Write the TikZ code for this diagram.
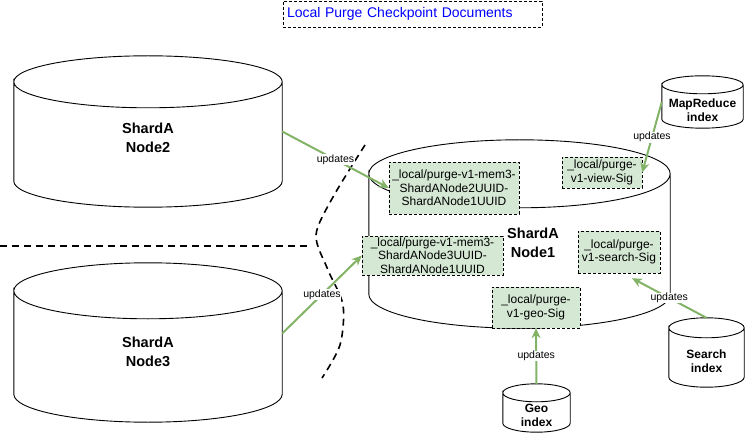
\documentclass[tikz,border=0pt]{standalone}
\usepackage{fontspec}
\setmainfont{Liberation Sans}
\usepackage{tikz}
\usetikzlibrary{calc,arrows.meta}
\definecolor{ckfill}{HTML}{D5E8D4}
\definecolor{ckline}{HTML}{82B366}
\newcommand{\dbfont}{\fontsize{14.5}{19}\bfseries\selectfont}
\newcommand{\dbsmall}{\fontsize{12}{14}\bfseries\selectfont}
\newcommand{\cyl}[2]{\draw[line width=0.9pt] let \p1=(#1.north west), \p2=(#1.south east), \n1={(\x2-\x1)/2} in
  (\x1,\y1-#2pt) arc[start angle=180, end angle=-180, x radius=\n1, y radius=#2pt]
  -- (\x1,\y2+#2pt) arc[start angle=180, end angle=360, x radius=\n1, y radius=#2pt] -- (\x2,\y1-#2pt);}

\begin{document}
\begin{tikzpicture}[x=1pt,y=-1pt,
  db/.style={rectangle,inner sep=0pt},
  ck/.style={draw,dash pattern=on 3pt off 2pt,fill=ckfill,inner sep=0pt,align=center,font=\fontsize{12}{13.5}\selectfont},
  upd/.style={-{Stealth[length=10pt,width=9pt]},ckline,line width=2pt},
  updlab/.style={fill=white,text=black,inner sep=0.5pt,font=\fontsize{10.5}{12}\selectfont},
  sep/.style={line width=1.6pt,dash pattern=on 7pt off 5pt}]
\useasboundingbox (0,0) rectangle (745,433);

\node[draw,dash pattern=on 3pt off 2pt,minimum height=26,text width=251,align=left,inner sep=4pt,text=blue,font=\fontsize{14}{16}\selectfont] (legend) at (412.5,14) {Local Purge Checkpoint Documents};

\draw[sep] (0,246) -- (310,246);
\draw[sep] plot[smooth] coordinates {(365,145) (333,197) (316,235) (328,270) (343,305) (340,345) (322,378)};

\node[db,minimum width=268,minimum height=151,label={[align=center,font=\dbfont,yshift=-6.5pt]center:ShardA\\Node2}] (node2) at (148,131.5) {};
\node[db,minimum width=268,minimum height=159,label={[align=center,font=\dbfont,yshift=-9.5pt]center:ShardA\\Node3}] (node3) at (148,342.5) {};
\node[db,minimum width=301,minimum height=188,label={[align=center,font=\dbfont,xshift=13.5pt,yshift=-9pt]center:ShardA\\Node1}] (node1) at (519.5,234) {};
\node[db,minimum width=81,minimum height=52,label={[align=center,font=\dbsmall,yshift=-8pt]center:MapReduce\\index}] (mr) at (702.5,102) {};
\node[db,minimum width=75,minimum height=69,label={[align=center,font=\dbsmall,yshift=-8.5pt]center:Search\\index}] (search) at (706.5,352.5) {};
\node[db,minimum width=67,minimum height=48,label={[align=center,font=\dbsmall,yshift=-7pt]center:Geo\\index}] (geo) at (536.5,408) {};
\cyl{node2}{26}
\cyl{node3}{28}
\cyl{node1}{34}
\cyl{mr}{9}
\cyl{search}{10}
\cyl{geo}{9}

\node[ck,minimum width=130,minimum height=52] (ckA) at (454,188) {\_local/purge-v1-mem3-\\ShardANode2UUID-\\ShardANode1UUID};
\node[ck,minimum width=141,minimum height=39] (ckB) at (432.5,255.5) {\_local/purge-v1-mem3-\\ShardANode3UUID-\\ShardANode1UUID};
\node[ck,minimum width=80,minimum height=31] (ckview) at (602,172.5) {\_local/purge-\\v1-view-Sig};
\node[ck,minimum width=82,minimum height=42] (cksearch) at (619,252) {\_local/purge-\\v1-search-Sig};
\node[ck,minimum width=88,minimum height=41] (ckgeo) at (536,307.5) {\_local/purge-\\v1-geo-Sig};

\draw[upd] (node2.east) -- node[updlab]{updates} (ckA.west);
\draw[upd] ([yshift=9pt]node3.east) -- node[updlab]{updates} (ckB.west);
\draw[upd] (mr.west) -- node[updlab]{updates} (ckview.east);
\draw[upd] (search.north) -- node[updlab]{updates} ([xshift=13pt,yshift=-5pt]cksearch.south);
\draw[upd] (geo.north) -- node[updlab]{updates} (ckgeo.south);
\end{tikzpicture}
\end{document}
